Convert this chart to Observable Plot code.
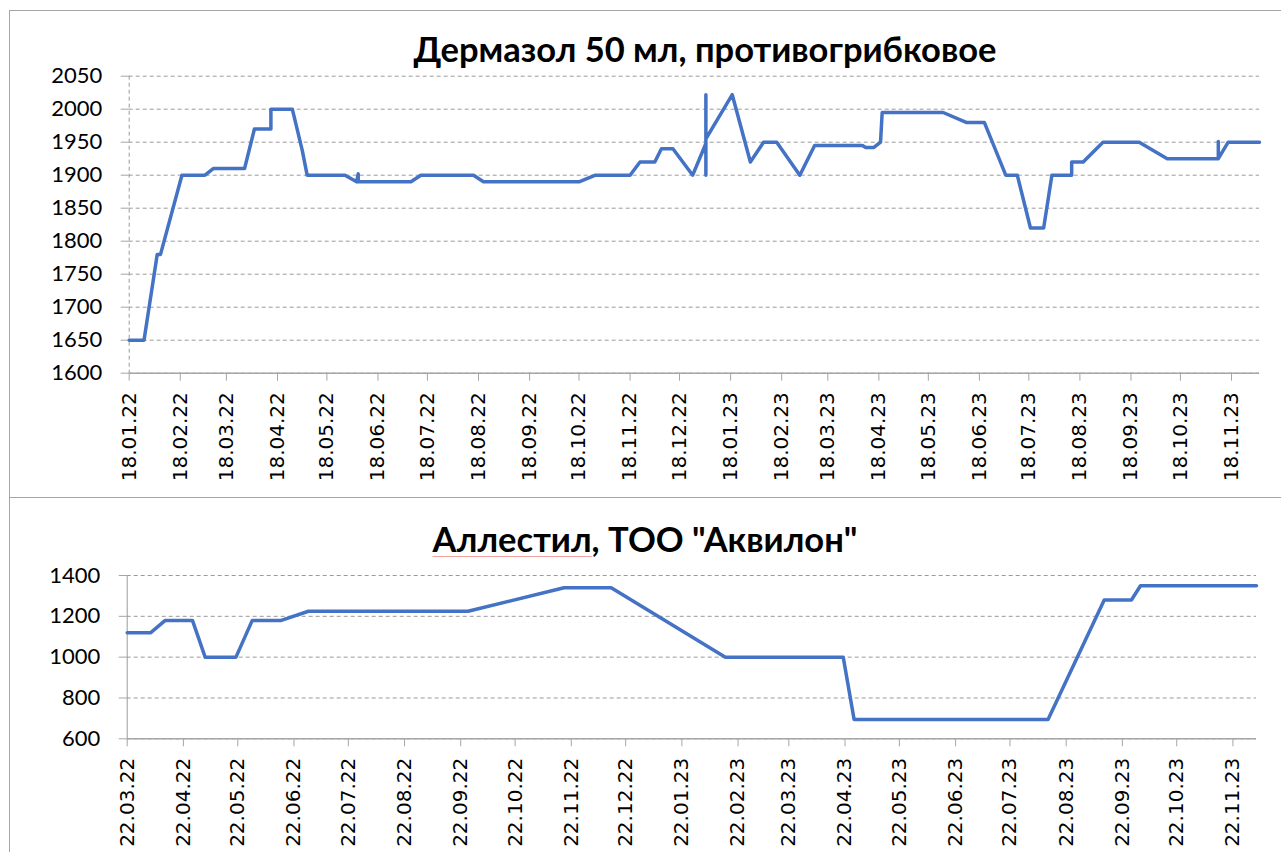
<!DOCTYPE html>
<html><head><meta charset="utf-8">
<script src="https://cdn.jsdelivr.net/npm/d3@7"></script>
<script src="https://cdn.jsdelivr.net/npm/@observablehq/plot@0.6"></script>
<style>
body{margin:0;background:#fff;}
#wrap{position:relative;width:1281px;height:852px;overflow:hidden;background:#fff;}
.box{position:absolute;border-color:#a6a6a6;border-style:solid;}
.chart{position:absolute;left:0;}
.title{position:absolute;font-family:Lato,"Noto Sans",sans-serif;font-weight:bold;font-size:34.5px;line-height:36px;color:#000;white-space:nowrap;transform:translateX(-50%);}
.sp{text-decoration:underline #f2a0a0;text-decoration-thickness:1px;text-underline-offset:4px;}
</style></head>
<body><div id="wrap">
<div class="box" style="left:9px;top:10px;width:1300px;height:486px;border-width:1px 0 1px 1px"></div>
<div class="box" style="left:9px;top:497px;width:1300px;height:400px;border-width:0 0 0 1px"></div>
<div id="c1" class="chart" style="top:0"></div>
<div id="c2" class="chart" style="top:497px"></div>
<div class="title" style="left:705px;top:31px">Дермазол 50 мл, противогрибковое</div>
<div class="title" style="left:645px;top:521px"><span class="sp">Аллестил</span>, ТОО "Аквилон"</div>
</div>
<script>
// ---- Data: Дермазол 50 мл ----
const dermDates = ["18.01.22","27.01.22","04.02.22","06.02.22","19.02.22","05.03.22","10.03.22","29.03.22","04.04.22","14.04.22","14.04.22","27.04.22","03.05.22","06.05.22","29.05.22","05.06.22","06.06.22","06.06.22","08.07.22","14.07.22","15.08.22","21.08.22","18.10.22","28.10.22","18.11.22","24.11.22","03.12.22","07.12.22","14.12.22","26.12.22","03.01.23","03.01.23","03.01.23","03.01.23","19.01.23","30.01.23","07.02.23","15.02.23","01.03.23","10.03.23","08.04.23","10.04.23","15.04.23","19.04.23","20.04.23","27.05.23","10.06.23","21.06.23","04.07.23","11.07.23","19.07.23","27.07.23","01.08.23","13.08.23","13.08.23","20.08.23","01.09.23","23.09.23","10.10.23","10.11.23","10.11.23","10.11.23","16.11.23","05.12.23"];
const dermPrices = [1650,1650,1780,1780,1900,1900,1910,1910,1970,1970,2000,2000,1938,1900,1900,1890,1902,1890,1890,1900,1900,1890,1890,1900,1900,1920,1920,1940,1940,1900,1948,2022,1900,1955,2022,1920,1950,1950,1900,1945,1945,1942,1942,1950,1995,1995,1980,1980,1900,1900,1820,1820,1900,1900,1920,1920,1950,1950,1925,1925,1951,1925,1950,1950];
const dermXTicks = ["18.01.22","18.02.22","18.03.22","18.04.22","18.05.22","18.06.22","18.07.22","18.08.22","18.09.22","18.10.22","18.11.22","18.12.22","18.01.23","18.02.23","18.03.23","18.04.23","18.05.23","18.06.23","18.07.23","18.08.23","18.09.23","18.10.23","18.11.23"];
const dermYTicks = [1600,1650,1700,1750,1800,1850,1900,1950,2000,2050];

// ---- Data: Аллестил ----
const allDates = ["22.03.22","04.04.22","12.04.22","27.04.22","04.05.22","21.05.22","30.05.22","15.06.22","30.06.22","26.09.22","18.11.22","14.12.22","15.02.23","21.04.23","27.04.23","12.08.23","12.09.23","27.09.23","02.10.23","05.12.23"];
const allPrices = [1120,1120,1180,1180,1000,1000,1180,1180,1225,1225,1340,1340,1000,1000,695,695,1280,1280,1350,1350];
const allXTicks = ["22.03.22","22.04.22","22.05.22","22.06.22","22.07.22","22.08.22","22.09.22","22.10.22","22.11.22","22.12.22","22.01.23","22.02.23","22.03.23","22.04.23","22.05.23","22.06.23","22.07.23","22.08.23","22.09.23","22.10.23","22.11.23"];
const allYTicks = [600,800,1000,1200,1400];

const parse = d3.utcParse("%d.%m.%y");
const fmt = d3.utcFormat("%d.%m.%y");
const BLUE = "#4472C4", GRAY = "#a6a6a6";

function chart({dates, prices, xTicks, yTicks, yDomain, height, mt, mb, ml, mr, dashedAxis}) {
  const data = dates.map((d, i) => ({date: parse(d), price: prices[i]}));
  const xt = xTicks.map(parse);
  const x0 = data[0].date, x1 = data[data.length - 1].date;
  return Plot.plot({
    width: 1281, height,
    marginTop: mt, marginBottom: mb, marginLeft: ml, marginRight: mr,
    style: {background: "transparent", overflow: "visible", color: "#000"},
    x: {type: "utc", domain: [x0, x1]},
    y: {domain: yDomain},
    marks: [
      Plot.gridY(yTicks, {stroke: "#9a9a9a", strokeOpacity: 1, strokeDasharray: "4,3"}),
      Plot.ruleX([x0], {stroke: "#9a9a9a", strokeDasharray: dashedAxis ? "4,3" : null}),
      Plot.ruleY([yDomain[0]], {stroke: GRAY, strokeWidth: 1.5}),
      Plot.axisY(yTicks, {tickSize: 8, tickPadding: 19, stroke: GRAY, fill: "#000", fontSize: 22, fontFamily: "Lato", label: null, tickFormat: d => String(d)}),
      Plot.axisX(xt, {tickSize: 8, tickPadding: 11, tickRotate: -90, stroke: GRAY, fill: "#000", fontSize: 20, fontFamily: "DejaVu Sans", label: null, tickFormat: fmt}),
      Plot.line(data, {x: "date", y: "price", stroke: BLUE, strokeWidth: 3.5, strokeLinejoin: "round", strokeLinecap: "round"})
    ]
  });
}

document.getElementById("c1").append(chart({
  dates: dermDates, prices: dermPrices, xTicks: dermXTicks, yTicks: dermYTicks,
  yDomain: [1600, 2050], height: 497, mt: 75.7, mb: 124.3, ml: 128.7, mr: 22, dashedAxis: true
}));
document.getElementById("c2").append(chart({
  dates: allDates, prices: allPrices, xTicks: allXTicks, yTicks: allYTicks,
  yDomain: [600, 1400], height: 355, mt: 78, mb: 113.7, ml: 126.7, mr: 25, dashedAxis: false
}));
</script>
</body></html>
